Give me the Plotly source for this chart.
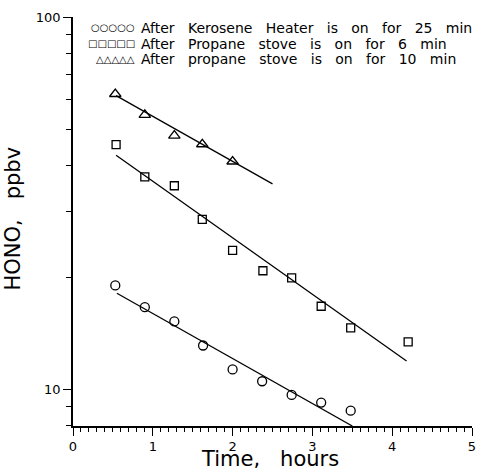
import numpy as np
import plotly.graph_objects as go

# ---- data ----
kero_time = [0.53, 0.90, 1.27, 1.63, 2.00, 2.37, 2.74, 3.11, 3.48]
kero_hono = [19.0, 16.6, 15.2, 13.1, 11.3, 10.5, 9.65, 9.2, 8.75]
kero_fit_time = [0.55, 3.50]
kero_fit_hono = [18.1, 7.96]

prop6_time = [0.54, 0.90, 1.27, 1.62, 2.00, 2.38, 2.74, 3.11, 3.48, 4.20]
prop6_hono = [45.4, 37.2, 35.2, 28.6, 23.6, 20.8, 19.9, 16.7, 14.6, 13.4]
prop6_fit_time = [0.54, 4.18]
prop6_fit_hono = [42.5, 11.9]

prop10_time = [0.53, 0.90, 1.27, 1.62, 2.00]
prop10_hono = [62.1, 54.6, 48.0, 45.5, 40.9]
prop10_fit_time = [0.54, 2.50]
prop10_fit_hono = [61.5, 35.6]

legend_labels = [
    "After Kerosene Heater is on for 25 min",
    "After Propane stove is on for 6 min",
    "After propane stove is on for 10 min",
]
legend_glyphs = ["○○○○○", "□□□□□", "△△△△△"]

x_ticks = [0, 1, 2, 3, 4, 5]
y_major = [10, 100]
y_minor = [8, 9, 20, 30, 40, 50, 60, 70, 80, 90]

FONT = "DejaVu Sans"
INK = "black"
SP = "\u00a0"

fig = go.Figure()

def add_series(t, v, ft, fv, symbol, size):
    fig.add_trace(go.Scatter(x=ft, y=fv, mode="lines",
                             line=dict(color=INK, width=1.3),
                             showlegend=False, cliponaxis=True))
    fig.add_trace(go.Scatter(x=t, y=v, mode="markers",
                             marker=dict(symbol=symbol, size=size, color=INK,
                                         line=dict(color=INK, width=1.3)),
                             showlegend=False, cliponaxis=False))

add_series(kero_time, kero_hono, kero_fit_time, kero_fit_hono, "circle-open", 9)
add_series(prop6_time, prop6_hono, prop6_fit_time, prop6_fit_hono, "square-open", 8)
add_series(prop10_time, prop10_hono, prop10_fit_time, prop10_fit_hono, "triangle-up-open", 10)

W, H = 480, 472
ML, MR, MT, MB = 73, 4, 17, 46
pw = W - ML - MR
ph = H - MT - MB

def px_x(p):
    return (p - ML) / pw

def px_y(p):
    return (H - MB - p) / ph

# legend drawn as text
for i, (g, lab) in enumerate(zip(legend_glyphs, legend_labels)):
    yy = px_y(28 + 15.5 * i)
    fig.add_annotation(x=px_x(138), y=yy, xref="paper", yref="paper",
                       text=g, showarrow=False, xanchor="right", yanchor="middle",
                       font=dict(family=FONT, size=10, color=INK))
    fig.add_annotation(x=px_x(140), y=yy, xref="paper", yref="paper",
                       text=lab.replace(" ", SP * 3), showarrow=False,
                       xanchor="left", yanchor="middle",
                       font=dict(family=FONT, size=14, color=INK))

# axis titles
fig.add_annotation(x=px_x(12), y=px_y(219), xref="paper", yref="paper",
                   text="HONO," + SP * 3 + "ppbv", textangle=-90, showarrow=False,
                   xanchor="center", yanchor="middle",
                   font=dict(family=FONT, size=21, color=INK))
fig.add_annotation(x=px_x(272), y=px_y(459), xref="paper", yref="paper",
                   text="Time," + SP * 3 + "hours", showarrow=False,
                   xanchor="center", yanchor="middle",
                   font=dict(family=FONT, size=21, color=INK))

fig.update_xaxes(range=[0, 5], tickvals=x_ticks, ticktext=[str(v) for v in x_ticks],
                 ticks="outside", ticklen=8, tickwidth=1.2, tickcolor=INK,
                 ticklabeloverflow="allow",
                 minor=dict(dtick=0.1, ticks="outside", ticklen=4, tickwidth=1, tickcolor=INK),
                 showline=True, linecolor=INK, linewidth=1.5, showgrid=False,
                 zeroline=False, tickfont=dict(family=FONT, size=13, color=INK))
fig.update_yaxes(type="log", range=[np.log10(7.96), 2],
                 tickvals=y_major, ticktext=[str(v) for v in y_major],
                 ticks="outside", ticklen=8, tickwidth=1.2, tickcolor=INK,
                 minor=dict(tickmode="array", tickvals=y_minor, ticks="outside",
                            ticklen=5, tickwidth=1.2, tickcolor=INK),
                 showline=True, linecolor=INK, linewidth=1.5, showgrid=False,
                 zeroline=False, tickfont=dict(family=FONT, size=13, color=INK))

fig.update_layout(width=W, height=H, margin=dict(l=ML, r=MR, t=MT, b=MB),
                  plot_bgcolor="white", paper_bgcolor="white", showlegend=False)

fig.write_html("out.html", config={"displayModeBar": False},
               post_script="document.body.style.margin='0';document.body.style.overflow='hidden';")
